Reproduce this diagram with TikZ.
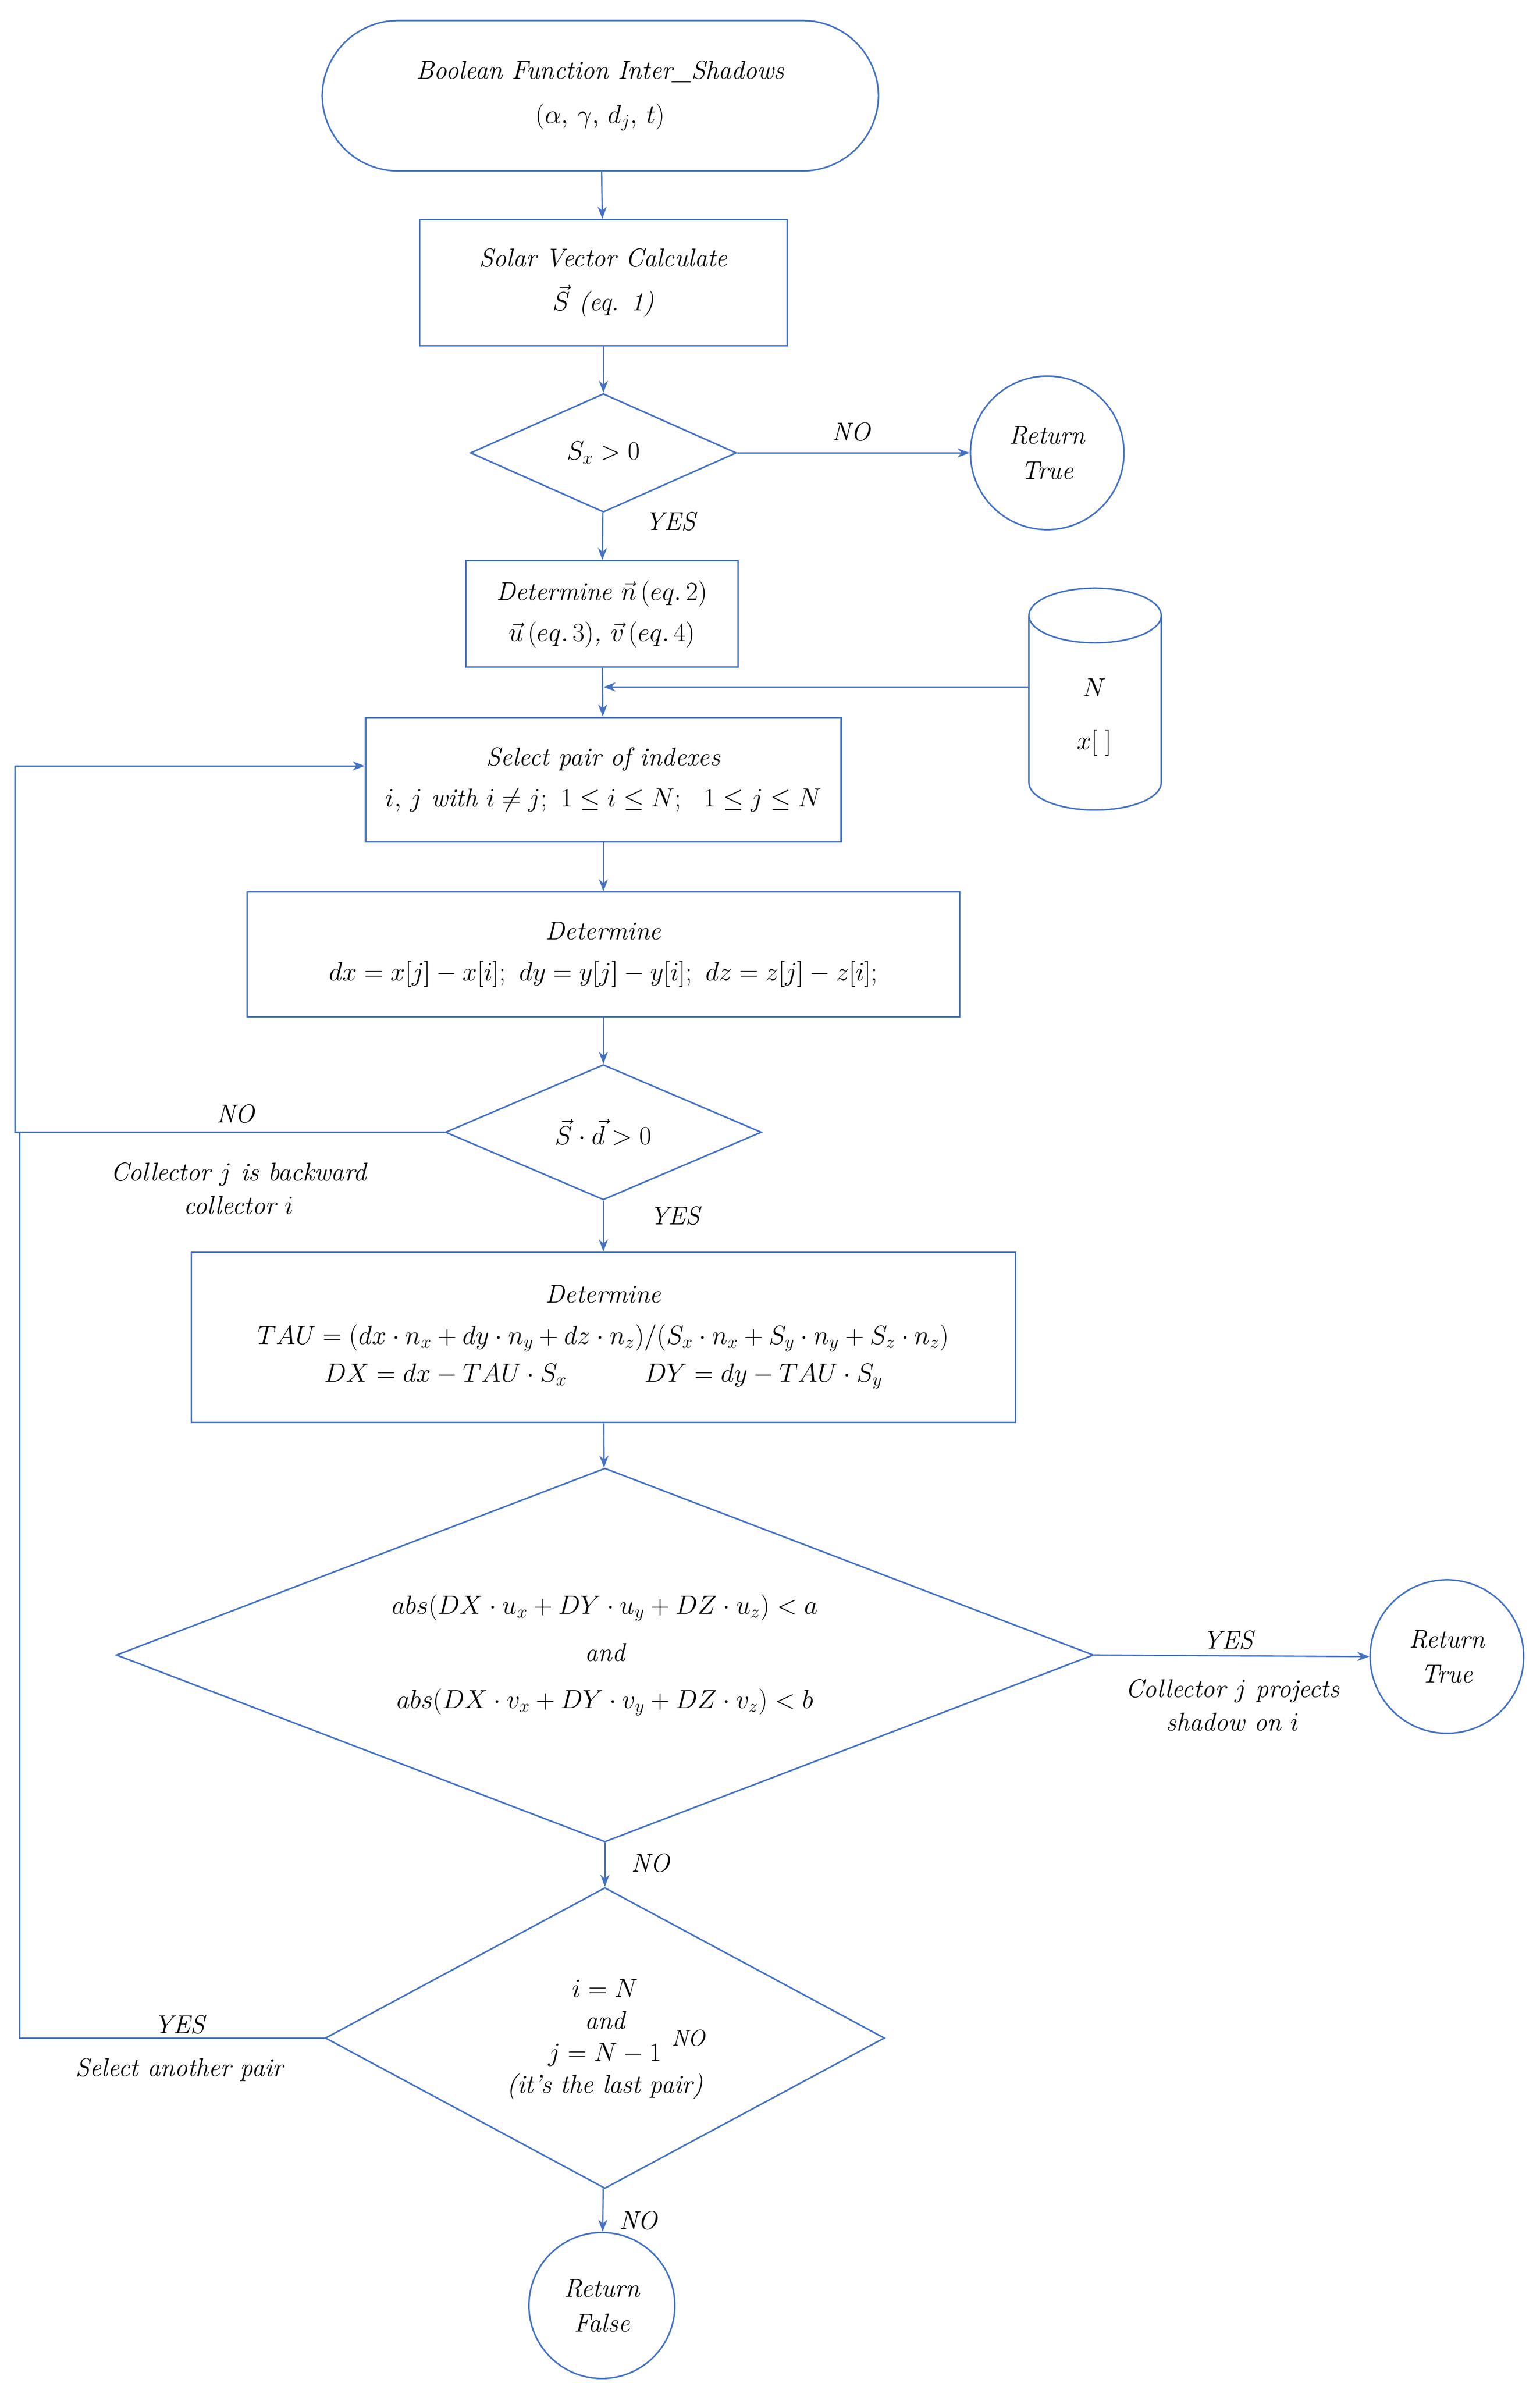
\documentclass[tikz,border=0pt]{standalone}
\usepackage{amsmath}
\usetikzlibrary{shapes.geometric,arrows.meta}
\definecolor{ln}{HTML}{4472C4}
\begin{document}
\begin{tikzpicture}[x=1pt,y=-1pt,
  every node/.style={font=\fontsize{17}{23}\selectfont\itshape, align=center, text=black},
  box/.style={draw=ln, line width=1pt, inner sep=0},
  dia/.style={draw=ln, line width=1pt, diamond, inner sep=0},
  circ/.style={draw=ln, line width=1pt, circle, inner sep=0},
  arr/.style={draw=ln, line width=0.9pt, -{Stealth[length=8pt,width=6pt]}},
  ln/.style={draw=ln, line width=0.9pt},
  lab/.style={font=\fontsize{17}{22}\selectfont\itshape}]
\useasboundingbox (0,0) rectangle (1013,1568);
\node[box, rounded corners=50pt, minimum width=366pt, minimum height=99pt] (start) at (395,63)
  {Boolean Function Inter\_Shadows\\[6pt] $(\alpha,\,\gamma,\,d_j,\,t)$};
\node[box, minimum width=242pt, minimum height=83pt] (b1) at (397,186)
  {Solar Vector Calculate\\[6pt] $\vec{S}$ (eq. 1)};
\node[dia, minimum width=175pt, minimum height=78pt] (d1) at (397,298) {};
\node at (d1) {$S_x>0$};
\node[circ, minimum size=101pt] (r1) at (689,298) {Return\\True};
\node[box, minimum width=179pt, minimum height=70pt] (b2) at (396,404)
  {Determine $\vec{n}\,(eq.\,2)$\\[4pt] $\vec{u}\,(eq.\,3)$, $\vec{v}\,(eq.\,4)$};
% cylinder
\coordinate (cyl) at (720,460);
\coordinate (cylw) at (677,460);
\draw[ln, line width=1pt] (677,405) arc[start angle=180, end angle=360, x radius=43.5pt, y radius=18pt]
  arc[start angle=0, end angle=180, x radius=43.5pt, y radius=18pt]
  -- (677,515) arc[start angle=180, end angle=360, x radius=43.5pt, y radius=18pt] -- (764,405);
\node at (720,472) {$N$\\[12pt] $x[\;]$};
\node[box, minimum width=313pt, minimum height=82pt] (b3) at (397,513)
  {Select pair of indexes\\[4pt] $i,\,j$ with $i\neq j;\ 1\le i\le N;\ \ 1\le j\le N$};
\node[box, minimum width=469pt, minimum height=82pt] (b4) at (397,628)
  {Determine\\[4pt] $dx=x[j]-x[i];\ dy=y[j]-y[i];\ dz=z[j]-z[i];$};
\node[dia, minimum width=208pt, minimum height=89pt] (d2) at (397,745) {};
\node at (d2) {$\vec{S}\cdot\vec{d}>0$};
\node[box, minimum width=542pt, minimum height=112pt] (b5) at (397,880)
  {Determine\\[4pt] $TAU=(dx\cdot n_x+dy\cdot n_y+dz\cdot n_z)/(S_x\cdot n_x+S_y\cdot n_y+S_z\cdot n_z)$\\[2pt]
   $DX=dx-TAU\cdot S_x\qquad\quad DY=dy-TAU\cdot S_y$};
\node[dia, minimum width=643pt, minimum height=246pt] (d3) at (398,1089) {};
\node at (d3) {$abs(DX\cdot u_x+DY\cdot u_y+DZ\cdot u_z)<a$\\[8pt] and\\[8pt] $abs(DX\cdot v_x+DY\cdot v_y+DZ\cdot v_z)<b$};
\node[circ, minimum size=101pt] (r2) at (952,1090) {Return\\True};
\node[dia, minimum width=368pt, minimum height=198pt] (d4) at (398,1341) {};
\node[font=\fontsize{17}{21}\selectfont\itshape] at (398,1342) {$i=N$\\ and\\ $j=N-1$\\ (it's the last pair)};
\node[lab, font=\fontsize{15}{19}\selectfont\itshape] at (453,1341) {NO};
\node[circ, minimum size=96pt] (r3) at (396,1517) {Return\\False};
% connectors
\draw[arr] (start) -- (b1);
\draw[arr] (b1) -- (d1);
\draw[arr] (d1.east) -- (r1.west);
\draw[arr] (d1) -- (b2);
\draw[arr] (b2) -- (b3);
\coordinate (cj) at (397,452);
\draw[arr] (cylw |- cj) -- (cj);
\draw[arr] (b3) -- (b4);
\draw[arr] (b4) -- (d2);
\draw[arr] (d2) -- (b5);
\draw[arr] (b5) -- (d3);
\draw[arr] (d3.east) -- (r2.west);
\draw[arr] (d3) -- (d4);
\draw[arr] (d4) -- (r3);
\coordinate (lp) at (10,745);
\coordinate (lt) at (240,504);
\draw[arr] (d2.west) -- (lp) |- (lt);
\coordinate (lq) at (13,1341);
\draw[ln] (d4.west) -- (lq) -- (lq |- lp);
% labels
\node[lab] at (560,284) {NO};
\node[lab] at (441,343) {YES};
\node[lab] at (155,733) {NO};
\node[lab] at (157,782) {Collector $j$ is backward\\ collector $i$};
\node[lab] at (444,800) {YES};
\node[lab] at (808,1079) {YES};
\node[lab] at (811,1122) {Collector $j$ projects\\ shadow on $i$};
\node[lab] at (428,1226) {NO};
\node[lab] at (118,1332) {YES};
\node[lab] at (118,1362) {Select another pair};
\node[lab] at (420,1461) {NO};
\end{tikzpicture}
\end{document}
